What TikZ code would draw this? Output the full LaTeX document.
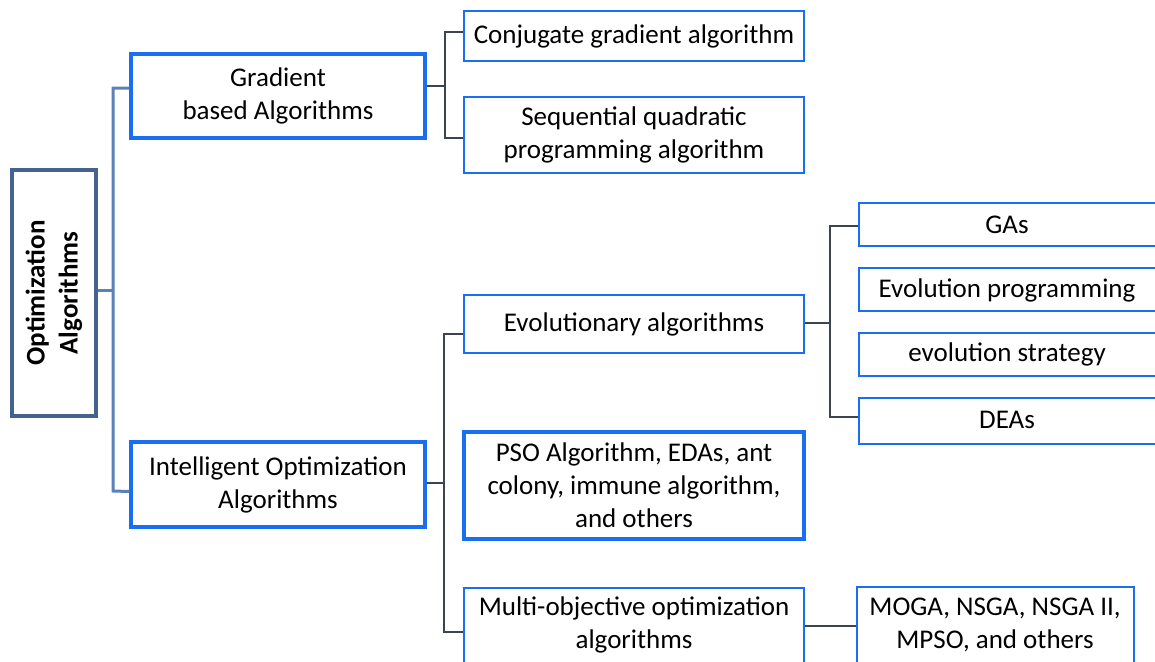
\documentclass[tikz,border=0pt]{standalone}
\usepackage{fontspec}
\setmainfont{Carlito}
\begin{document}
\begin{tikzpicture}[x=1pt,y=-1pt,
  lbl/.style={font=\fontsize{27}{33}\selectfont, align=center, text=black},
  box/.style={lbl, draw=boxblue, line width=2.5pt, fill=white, inner sep=0pt},
  bigbox/.style={box, line width=3.5pt},
  rootbox/.style={draw=rootblue, line width=4.5pt, fill=white, inner sep=0pt,
    align=center, font=\fontsize{27}{33}\selectfont\bfseries},
  trunk/.style={draw=trunkblue, line width=3pt},
  branch/.style={draw=branchgrey, line width=2.5pt}]
\definecolor{boxblue}{HTML}{1A6EF2}
\definecolor{rootblue}{HTML}{44638F}
\definecolor{trunkblue}{HTML}{5A82B8}
\definecolor{branchgrey}{HTML}{3C4452}
\useasboundingbox (0,0) rectangle (1155,661);
\clip (0,0) rectangle (1155,661);

% helper: node from corner coordinates
\newcommand{\boxat}[7]{%
  \node[#1, minimum width=#4pt-#2pt, minimum height=#5pt-#3pt] (#6)
    at ({(#2+#4)/2},{(#3+#5)/2}) {#7};}

% root
\boxat{rootbox}{12}{170}{96}{416}{root}{}
\node[rootbox, draw=none, fill=none, rotate=90] at (root.center)
  {Optimization\\Algorithms};

% first level
\boxat{bigbox}{131}{54}{425}{138}{grad}{Gradient\\based Algorithms}
\boxat{bigbox}{131}{442}{425}{527}{intel}{Intelligent Optimization\\Algorithms}

% second level
\boxat{box}{464}{11}{804}{61}{conj}{Conjugate gradient algorithm}
\boxat{box}{464}{97}{804}{173}{sqp}{Sequential quadratic\\programming algorithm}
\boxat{box}{464}{295}{804}{353}{evo}{Evolutionary algorithms}
\boxat{bigbox}{464}{432}{804}{539}{pso}{PSO Algorithm, EDAs, ant\\colony, immune algorithm,\\and others}
\boxat{box}{464}{588}{804}{690}{multi}{}
\node[lbl] at (634,625) {Multi-objective optimization\\algorithms};

% third level
\boxat{box}{859}{203}{1160}{246}{ga}{}
\node[lbl] at (1007,225) {GAs};
\boxat{box}{859}{268}{1160}{311}{ep}{}
\node[lbl] at (1007,290) {Evolution programming};
\boxat{box}{859}{333}{1160}{376}{es}{}
\node[lbl] at (1007,354) {evolution strategy};
\boxat{box}{859}{398}{1160}{444}{dea}{}
\node[lbl] at (1007,420) {DEAs};
\boxat{box}{857}{587}{1134}{690}{moga}{}
\node[lbl] at (995,625) {MOGA, NSGA, NSGA II,\\MPSO, and others};

% connectors: root
\coordinate (rb) at (113,290);
\draw[trunk] (root.east |- rb) -- (rb);
\draw[trunk] ([yshift=8pt]grad.west) -| (113,491) -- ([yshift=-7pt]intel.west);

% connectors: gradient based
\draw[branch] (grad.east |- 0,86) -- (445,86);
\draw[branch] (conj.west |- 0,32) -| (445,138) -- (sqp.west |- 0,138);

% connectors: intelligent
\draw[branch] (intel.east |- 0,483) -- (444,483);
\draw[branch] (evo.west |- 0,334) -| (444,632) -- (multi.west |- 0,632);

% connectors: evolutionary
\draw[branch] (evo.east |- 0,323) -- (830,323);
\draw[branch] (ga.west |- 0,226) -| (830,417) -- (dea.west |- 0,417);

% connectors: multi-objective
\draw[branch] (multi.east |- 0,626) -- (moga.west |- 0,626);
\end{tikzpicture}
\end{document}
